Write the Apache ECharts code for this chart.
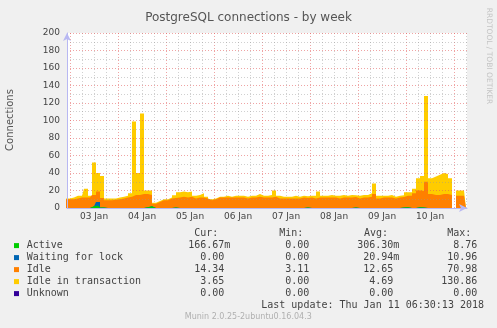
<!DOCTYPE html>
<html>
<head>
<meta charset="utf-8">
<script src="https://cdn.jsdelivr.net/npm/echarts@6/dist/echarts.min.js"></script>
<style>
html,body{margin:0;padding:0;background:#F0F0F0;}
#c{width:497px;height:328px;}
</style>
</head>
<body>
<div id="c"></div>
<script>
// ---- data (hours relative to 03 Jan 2018 00:00, one value every 2 hours) ----
const startHour = -2;
const stepHours = 2;
const active = [
  0,0,0,0,0,0,0,2,3,0.5,
  0,0,0,0,0,0,0,0,0,0,
  1,2,0,0,0,0,0,0.5,0,0,
  0,0,0,0,0,0,0,0,0,0,
  0,0,0,0,0,0,0,0,0,0,
  0,0,0,0,0,0,0,0,0,0,
  0.5,0,0,0,0,0,0,0,0,0,
  0,0,0.5,0,0,0,0,0,0,0,
  0,0,0,0,0.5,1,0,0,1,0.5,
  0,0,0,0,0,0,0,0,0,0,
  0
];
const waiting = [
  0,0,0,0,0,0,0,0,4,0,
  0,0,0,0,0,0,0,0,0,0,
  0,0,0,0,0,0,0,0,0,0,
  0,0,0,0,0,0,0,0,0,0,
  0,0,0,0,0,0,0,0,0,0,
  0,0,0,0,0,0,0,0,0,0,
  0,0,0,0,0,0,0,0,0,0,
  0,0,0,0,0,0,0,0,0,0,
  0,0,0,0,0,0,0,0,0,0,
  0,0,0,0,0,0,0,0,0,0,
  0
];
const idle = [
  10,10,10,11,12,12,12,13,12,11,
  9,9,9.5,10,11,12,13,15,15,16,
  15,13,5,7,9,9,11,11,12,13,
  12,13,11,12,12,11,9,10,12,12,
  12,12,12,12,12,11,12,12,13,12,
  12,12,13,11,11,11,11,11,11,12,
  11,12,11,12,12,12,12,12,11,12,
  12,12,12,11,12,12,13,16,11,12,
  12,12,11,12,12,13,14,17,19,19,
  30,16,15,15,16,16,15,null,14,14,
  13
];
const idleTx = [
  1,1,2,3,2,10,2,37,21,25,
  2,2,1.5,2,2,2,4,84,25,92,
  4,5,1,1,1,1,1,3,6,6,
  6,6,3,3,5,2,1,1,1,1,
  2,1,2,2,2,2,2,2,3,2,
  2,3,7,3,2,2,2,3,2,2,
  2,2,3,7,2,2,3,2,3,3,
  2,3,2,3,3,3,4,12,3,2,
  2,3,2,2,2,4,4,5,14,17,
  98,18,21,23,24,23,19,null,6,6,
  6
];
const unknown = [
  0,0,0,0,0,0,0,0,0,0,
  0,0,0,0,0,0,0,0,0,0,
  0,0,0,0,0,0,0,0,0,0,
  0,0,0,0,0,0,0,0,0,0,
  0,0,0,0,0,0,0,0,0,0,
  0,0,0,0,0,0,0,0,0,0,
  0,0,0,0,0,0,0,0,0,0,
  0,0,0,0,0,0,0,0,0,0,
  0,0,0,0,0,0,0,0,0,0,
  0,0,0,0,0,0,0,0,0,0,
  0
];
const dayLabels = ['03 Jan','04 Jan','05 Jan','06 Jan','07 Jan','08 Jan','09 Jan','10 Jan'];
const xMinHour = -1.5, xMaxHour = 198.5;
const yTicks = {min: 0, max: 200, interval: 20};

const legendNames = ['Active','Waiting for lock','Idle','Idle in transaction','Unknown'];
const legendColors = ['#00CC00','#0066B3','#FF8000','#FFCC00','#330099'];
const curVals = ['166.67m','0.00 ','14.34 ','3.65 ','0.00 '];
const minVals = ['0.00 ','0.00 ','3.11 ','0.00 ','0.00 '];
const avgVals = ['306.30m','20.94m','12.65 ','4.69 ','0.00 '];
const maxVals = ['8.76 ','10.96 ','70.98 ','130.86 ','0.00 '];
const lastUpdate = 'Last update: Thu Jan 11 06:30:13 2018';
const muninVersion = 'Munin 2.0.25-2ubuntu0.16.04.3';

// ---- build ----
const SANS = 'DejaVu Sans';
const MONO = 'DejaVu Sans Mono';
const ORIGIN = Date.UTC(2018, 0, 3);
const HOUR = 3600 * 1000;
const layers = [active, waiting, idle, idleTx, unknown];
// cumulative tops (stack built by hand, drawn largest first)
const cum = [];
layers.forEach((arr, li) => {
  cum.push(arr.map((v, i) => {
    let s = 0;
    for (let l = 0; l <= li; l++) {
      const x = layers[l][i];
      if (x === null) return null;
      s += x;
    }
    return s;
  }));
});
function pairs(arr){ return arr.map((v,i)=>[ORIGIN + (startHour + i*stepHours)*HOUR, v]); }

// half-hour category grid for grid lines / labels
const cats = [];
const nCats = Math.round((xMaxHour - xMinHour) / 0.5) + 1;
for (let i = 0; i < nCats; i++) {
  const h = xMinHour + i*0.5;
  const rel = h - 12;
  if (rel >= 0 && rel % 24 === 0 && dayLabels[rel/24]) cats.push(dayLabels[rel/24]);
  else cats.push('');
}
function hourOf(i){ return xMinHour + i*0.5; }
function isMidnight(i){ const h = hourOf(i); return ((h % 24) + 24) % 24 === 0; }
function isSixHour(i){ const h = hourOf(i); return ((h % 6) + 6) % 6 === 0; }
function isNoon(i){ const h = hourOf(i); return ((h % 24) + 24) % 24 === 12; }

const redGrid = {color:'rgba(225,90,90,0.55)', width:1, type:[1,2]};
const grayGrid = {color:'rgba(150,150,150,0.45)', width:1, type:[1,2]};
const axisCol = '#b8b8f2';

function area(name, data, color, z){
  return {
    name, type:'line', step:'middle', xAxisIndex:0, yAxisIndex:0, z,
    data: pairs(data), symbol:'none', showSymbol:false,
    lineStyle:{width:1, opacity:0}, areaStyle:{color, opacity:1, origin:'start'}, itemStyle:{color},
    animation:false
  };
}
// draw order: idle in transaction (top) first, active last
const series = [];
for (let li = 3; li >= 0; li--) {
  series.push(area(legendNames[li], cum[li], legendColors[li], 2 + (3 - li)));
}

const graphic = [];
graphic.push({type:'text', x:10.5, y:120, rotation:Math.PI/2,
  style:{text:'Connections', font:'10px "'+SANS+'"', fill:'#555', align:'center', verticalAlign:'middle'}});
graphic.push({type:'text', x:489, y:56, rotation:-Math.PI/2,
  style:{text:'RRDTOOL / TOBI OETIKER', font:'7.5px "'+SANS+'"', fill:'#c4c4c4', align:'center', verticalAlign:'middle'}});
const mono = '10px "'+MONO+'"';
const txtCol = '#444';
const headerY = 233.5;
[['Cur:',194.3],['Min:',279.3],['Avg:',364],['Max:',447.3]].forEach(([t,x])=>{
  graphic.push({type:'text', x, y:headerY, style:{text:t, font:mono, fill:txtCol, align:'left', verticalAlign:'middle'}});
});
legendNames.forEach((n,i)=>{
  const y = 245.6 + i*12;
  graphic.push({type:'rect', shape:{x:14, y:y-2.5, width:5, height:5}, style:{fill:legendColors[i]}});
  graphic.push({type:'text', x:26.7, y, style:{text:n, font:mono, fill:txtCol, align:'left', verticalAlign:'middle'}});
  graphic.push({type:'text', x:230.3, y, style:{text:curVals[i], font:mono, fill:txtCol, align:'right', verticalAlign:'middle'}});
  graphic.push({type:'text', x:315.3, y, style:{text:minVals[i], font:mono, fill:txtCol, align:'right', verticalAlign:'middle'}});
  graphic.push({type:'text', x:399.3, y, style:{text:avgVals[i], font:mono, fill:txtCol, align:'right', verticalAlign:'middle'}});
  graphic.push({type:'text', x:483.3, y, style:{text:maxVals[i], font:mono, fill:txtCol, align:'right', verticalAlign:'middle'}});
});
graphic.push({type:'text', x:484, y:305.6, style:{text:lastUpdate, font:mono, fill:txtCol, align:'right', verticalAlign:'middle'}});
graphic.push({type:'text', x:248.3, y:317, style:{text:muninVersion, font:'8px "'+SANS+'"', fill:'#b0b0b0', align:'center', verticalAlign:'middle'}});

const chart = echarts.init(document.getElementById('c'), null, {renderer:'canvas'});
chart.setOption({
  backgroundColor:'#F0F0F0',
  animation:false,
  useUTC:true,
  title:{text:'PostgreSQL connections - by week', left:'center', top:7,
    textStyle:{fontSize:12, fontWeight:'normal', color:'#555', fontFamily:SANS}},
  grid:{left:67, right:30, top:33, bottom:120, show:true, backgroundColor:'#FFFFFF', borderWidth:0},
  xAxis:[
    {type:'time', min:ORIGIN + xMinHour*HOUR, max:ORIGIN + xMaxHour*HOUR, position:'bottom',
      axisLine:{show:true, onZero:false, lineStyle:{color:axisCol, width:1}, symbol:['none','arrow'], symbolSize:[6,8]},
      axisTick:{show:false}, axisLabel:{show:false}, splitLine:{show:false}, z:10},
    {type:'category', data:cats, boundaryGap:false, position:'bottom',
      axisLine:{show:false}, axisTick:{show:false}, axisLabel:{show:false},
      splitLine:{show:true, interval:(i)=>isSixHour(i) && !isMidnight(i), lineStyle:grayGrid}},
    {type:'category', data:cats, boundaryGap:false, position:'bottom',
      axisLine:{show:false}, axisTick:{show:false},
      axisLabel:{show:true, interval:(i)=>isNoon(i), fontSize:9, color:txtCol, fontFamily:SANS, margin:4},
      splitLine:{show:true, interval:(i)=>isMidnight(i), lineStyle:redGrid}}
  ],
  yAxis:{type:'value', min:yTicks.min, max:yTicks.max, interval:yTicks.interval,
    axisLine:{show:true, lineStyle:{color:axisCol, width:1}, symbol:['none','arrow'], symbolSize:[6,8]},
    axisTick:{show:false},
    axisLabel:{fontSize:9, color:txtCol, fontFamily:SANS, margin:7},
    splitLine:{show:true, lineStyle:redGrid},
    minorTick:{show:false, splitNumber:2},
    minorSplitLine:{show:true, lineStyle:grayGrid}, z:10},
  series,
  graphic
});
</script>
</body>
</html>
